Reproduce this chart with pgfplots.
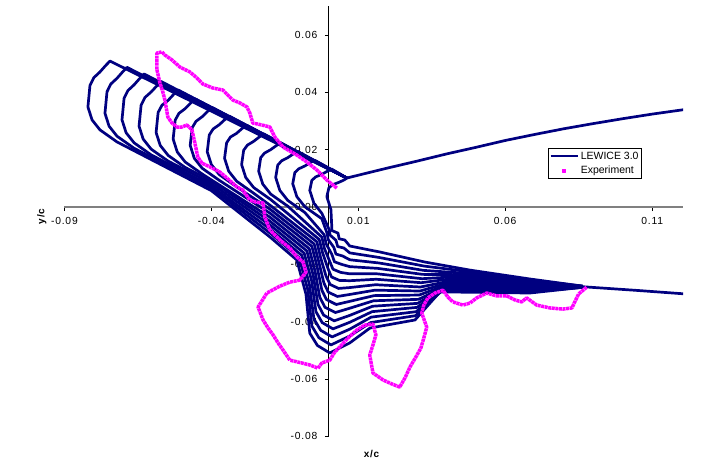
\documentclass[border=0pt]{standalone}
\usepackage{fontspec}
\setmainfont{Liberation Sans}
\newfontfamily\spaced[LetterSpace=8]{Liberation Sans}
\usepackage{pgfplots}
\pgfplotsset{compat=1.18}
\definecolor{lnavy}{RGB}{0,0,128}
\definecolor{emag}{RGB}{255,0,255}
\begin{document}
\begin{tikzpicture}
\useasboundingbox (0,0) rectangle (706bp,466bp);
\begin{axis}[
  at={(64.4bp,29.6bp)}, anchor=south west,
  scale only axis, width=618.6bp, height=430.1bp,
  xmin=-0.09, xmax=0.1205, ymin=-0.08, ymax=0.07,
  axis lines=middle,
  axis line style={-},
  x axis line style={-, draw=gray, line width=1.5bp},
  y axis line style={-, draw=black, line width=0.9bp},
  xtick={-0.09,-0.04,0.01,0.06,0.11},
  xticklabels={-0.09,-0.04,0.01,0.06,0.11},
  ytick={-0.08,-0.06,-0.04,-0.02,0,0.02,0.04,0.06},
  yticklabels={-0.08,-0.06,-0.04,-0.02,0.00,0.02,0.04,0.06},
  tick align=outside, major tick length=4bp,
  tick style={black, line width=0.8bp},
  hide obscured x ticks=false, hide obscured y ticks=false,
  ticklabel style={font=\spaced\fontsize{10.3bp}{12bp}\selectfont},
  xticklabel style={anchor=north, yshift=-3bp},
  yticklabel style={anchor=east, xshift=-4bp},
  legend style={at={(0.7818,0.6706)}, anchor=north west, draw=black, line width=0.7bp,
    fill=white, inner xsep=1bp, inner ysep=1.5bp, row sep=1.5bp,
    font=\fontsize{10.5bp}{12bp}\selectfont, cells={anchor=west}},
  legend image code/.code={\draw[#1, line width=2.4bp] (0bp,0bp) -- (27bp,0bp);},
  every axis plot/.append style={line join=round},
  lew/.style={lnavy, line width=2.7bp, forget plot},
]
% LEWICE 3.0 : upper surface
\addplot[lnavy, line width=2.7bp] coordinates {(0.1211,0.0340) (0.1100,0.0324) (0.1000,0.0308) (0.0900,0.0291) (0.0800,0.0273) (0.0700,0.0253) (0.0600,0.0232) (0.0500,0.0208) (0.0400,0.0185) (0.0300,0.0160) (0.0200,0.0136) (0.0120,0.0116) (0.0061,0.0101)};
% lower surface
\addplot[lew] coordinates {(0.0864,-0.0278) (0.1050,-0.0291) (0.1211,-0.0303)};
% ice shapes
\addplot[lew] coordinates {(0.0061,0.0101) (0.0053,0.0095) (0.0034,0.0086) (0.0013,0.0078) (0.0000,0.0067) (-0.0007,0.0036) (0.0007,-0.0009) (0.0010,-0.0073) (0.0010,-0.0082) (0.0031,-0.0091) (0.0035,-0.0111) (0.0054,-0.0115) (0.0071,-0.0136) (0.0174,-0.0157) (0.0327,-0.0192) (0.0480,-0.0220) (0.0684,-0.0251) (0.0864,-0.0276)};
\addplot[lew] coordinates {(0.0061,0.0101) (0.0010,0.0132) (-0.0005,0.0125) (-0.0024,0.0114) (-0.0045,0.0105) (-0.0058,0.0093) (-0.0065,0.0058) (-0.0051,0.0013) (-0.0024,-0.0022) (0.0002,-0.0081) (0.0004,-0.0098) (0.0024,-0.0116) (0.0030,-0.0138) (0.0051,-0.0143) (0.0071,-0.0160) (0.0171,-0.0176) (0.0324,-0.0206) (0.0472,-0.0225) (0.0684,-0.0255) (0.0864,-0.0276)};
\addplot[lew] coordinates {(0.0061,0.0101) (-0.0048,0.0163) (-0.0063,0.0155) (-0.0082,0.0143) (-0.0103,0.0133) (-0.0116,0.0120) (-0.0123,0.0081) (-0.0109,0.0036) (-0.0082,0.0001) (-0.0024,-0.0041) (-0.0007,-0.0089) (-0.0002,-0.0114) (0.0017,-0.0141) (0.0024,-0.0164) (0.0047,-0.0171) (0.0071,-0.0184) (0.0169,-0.0195) (0.0322,-0.0221) (0.0465,-0.0231) (0.0684,-0.0258) (0.0864,-0.0277)};
\addplot[lew] coordinates {(0.0061,0.0101) (-0.0106,0.0194) (-0.0121,0.0185) (-0.0140,0.0172) (-0.0161,0.0161) (-0.0174,0.0146) (-0.0181,0.0103) (-0.0167,0.0058) (-0.0140,0.0023) (-0.0082,-0.0019) (-0.0016,-0.0097) (-0.0009,-0.0129) (0.0010,-0.0165) (0.0019,-0.0191) (0.0043,-0.0200) (0.0071,-0.0208) (0.0166,-0.0214) (0.0319,-0.0235) (0.0458,-0.0236) (0.0684,-0.0262) (0.0864,-0.0277)};
\addplot[lew] coordinates {(0.0061,0.0101) (-0.0164,0.0224) (-0.0179,0.0214) (-0.0198,0.0200) (-0.0219,0.0188) (-0.0232,0.0172) (-0.0239,0.0125) (-0.0225,0.0080) (-0.0198,0.0045) (-0.0140,0.0003) (-0.0024,-0.0105) (-0.0015,-0.0145) (0.0003,-0.0190) (0.0014,-0.0217) (0.0040,-0.0228) (0.0071,-0.0233) (0.0164,-0.0233) (0.0317,-0.0250) (0.0450,-0.0242) (0.0684,-0.0265) (0.0864,-0.0277)};
\addplot[lew] coordinates {(0.0061,0.0101) (-0.0222,0.0255) (-0.0237,0.0244) (-0.0256,0.0229) (-0.0277,0.0216) (-0.0290,0.0198) (-0.0297,0.0148) (-0.0283,0.0103) (-0.0256,0.0068) (-0.0198,0.0026) (-0.0033,-0.0113) (-0.0021,-0.0161) (-0.0003,-0.0215) (0.0009,-0.0244) (0.0036,-0.0256) (0.0071,-0.0257) (0.0161,-0.0252) (0.0314,-0.0264) (0.0443,-0.0247) (0.0684,-0.0269) (0.0864,-0.0277)};
\addplot[lew] coordinates {(0.0061,0.0101) (-0.0280,0.0285) (-0.0295,0.0274) (-0.0314,0.0257) (-0.0335,0.0244) (-0.0348,0.0224) (-0.0355,0.0170) (-0.0341,0.0125) (-0.0314,0.0090) (-0.0256,0.0048) (-0.0200,0.0006) (-0.0041,-0.0121) (-0.0028,-0.0177) (-0.0010,-0.0240) (0.0004,-0.0270) (0.0033,-0.0284) (0.0071,-0.0281) (0.0159,-0.0271) (0.0312,-0.0279) (0.0436,-0.0253) (0.0684,-0.0272) (0.0864,-0.0278)};
\addplot[lew] coordinates {(0.0061,0.0101) (-0.0339,0.0317) (-0.0354,0.0305) (-0.0373,0.0287) (-0.0394,0.0272) (-0.0407,0.0251) (-0.0414,0.0193) (-0.0400,0.0148) (-0.0373,0.0113) (-0.0315,0.0071) (-0.0200,-0.0008) (-0.0050,-0.0129) (-0.0034,-0.0193) (-0.0017,-0.0265) (-0.0002,-0.0297) (0.0029,-0.0312) (0.0071,-0.0305) (0.0157,-0.0290) (0.0310,-0.0293) (0.0429,-0.0258) (0.0684,-0.0276) (0.0864,-0.0278)};
\addplot[lew] coordinates {(0.0061,0.0101) (-0.0397,0.0347) (-0.0412,0.0334) (-0.0431,0.0315) (-0.0452,0.0299) (-0.0465,0.0277) (-0.0472,0.0215) (-0.0458,0.0170) (-0.0431,0.0135) (-0.0373,0.0093) (-0.0200,-0.0022) (-0.0058,-0.0137) (-0.0040,-0.0209) (-0.0024,-0.0290) (-0.0008,-0.0323) (0.0025,-0.0340) (0.0071,-0.0329) (0.0154,-0.0309) (0.0307,-0.0307) (0.0421,-0.0264) (0.0684,-0.0279) (0.0864,-0.0278)};
\addplot[lew] coordinates {(0.0061,0.0101) (-0.0455,0.0377) (-0.0470,0.0363) (-0.0489,0.0343) (-0.0510,0.0327) (-0.0523,0.0303) (-0.0530,0.0237) (-0.0516,0.0192) (-0.0489,0.0157) (-0.0431,0.0115) (-0.0200,-0.0036) (-0.0067,-0.0145) (-0.0047,-0.0224) (-0.0031,-0.0315) (-0.0013,-0.0350) (0.0022,-0.0368) (0.0071,-0.0353) (0.0152,-0.0327) (0.0305,-0.0322) (0.0414,-0.0269) (0.0684,-0.0282) (0.0864,-0.0279)};
\addplot[lew] coordinates {(0.0061,0.0101) (-0.0513,0.0408) (-0.0528,0.0393) (-0.0547,0.0372) (-0.0568,0.0355) (-0.0581,0.0330) (-0.0588,0.0260) (-0.0574,0.0215) (-0.0547,0.0180) (-0.0489,0.0138) (-0.0400,0.0091) (-0.0200,-0.0050) (-0.0075,-0.0153) (-0.0053,-0.0240) (-0.0037,-0.0340) (-0.0018,-0.0377) (0.0018,-0.0397) (0.0071,-0.0378) (0.0149,-0.0346) (0.0302,-0.0336) (0.0407,-0.0275) (0.0684,-0.0286) (0.0864,-0.0279)};
\addplot[lew] coordinates {(0.0061,0.0101) (-0.0571,0.0438) (-0.0586,0.0422) (-0.0605,0.0401) (-0.0626,0.0382) (-0.0639,0.0355) (-0.0646,0.0282) (-0.0632,0.0237) (-0.0605,0.0202) (-0.0547,0.0160) (-0.0400,0.0082) (-0.0200,-0.0063) (-0.0084,-0.0161) (-0.0059,-0.0256) (-0.0044,-0.0365) (-0.0023,-0.0403) (0.0014,-0.0425) (0.0071,-0.0402) (0.0147,-0.0365) (0.0300,-0.0350) (0.0399,-0.0280) (0.0684,-0.0289) (0.0864,-0.0279)};
\addplot[lew] coordinates {(0.0061,0.0101) (-0.0629,0.0464) (-0.0644,0.0448) (-0.0663,0.0426) (-0.0684,0.0406) (-0.0697,0.0379) (-0.0704,0.0304) (-0.0690,0.0259) (-0.0663,0.0224) (-0.0605,0.0182) (-0.0400,0.0073) (-0.0200,-0.0077) (-0.0092,-0.0169) (-0.0066,-0.0272) (-0.0051,-0.0390) (-0.0028,-0.0430) (0.0011,-0.0453) (0.0071,-0.0426) (0.0144,-0.0384) (0.0297,-0.0365) (0.0392,-0.0286) (0.0684,-0.0293) (0.0864,-0.0280)};
\addplot[lew] coordinates {(0.0061,0.0101) (-0.0687,0.0487) (-0.0702,0.0471) (-0.0721,0.0449) (-0.0742,0.0429) (-0.0755,0.0402) (-0.0762,0.0327) (-0.0748,0.0282) (-0.0721,0.0247) (-0.0663,0.0205) (-0.0400,0.0066) (-0.0200,-0.0091) (-0.0101,-0.0177) (-0.0072,-0.0288) (-0.0058,-0.0415) (-0.0034,-0.0456) (0.0007,-0.0481) (0.0071,-0.0450) (0.0142,-0.0403) (0.0295,-0.0379) (0.0385,-0.0291) (0.0684,-0.0296) (0.0864,-0.0280)};
\addplot[lew] coordinates {(0.0061,0.0101) (-0.0745,0.0509) (-0.0760,0.0493) (-0.0779,0.0471) (-0.0800,0.0451) (-0.0813,0.0424) (-0.0820,0.0349) (-0.0806,0.0304) (-0.0779,0.0269) (-0.0721,0.0227) (-0.0400,0.0057) (-0.0200,-0.0105) (-0.0109,-0.0185) (-0.0078,-0.0304) (-0.0065,-0.0440) (-0.0039,-0.0483) (0.0003,-0.0509) (0.0071,-0.0474) (0.0140,-0.0422) (0.0293,-0.0394) (0.0378,-0.0296) (0.0684,-0.0300) (0.0864,-0.0280)};
% Experiment
\addlegendimage{legend image code/.code={\fill[emag] (12bp,-1.6bp) rectangle (15.2bp,1.6bp);}}
\addplot[emag, line width=3.5bp, dash pattern=on 3bp off 0.6bp, forget plot] coordinates {
(0.0027,0.0066) (-0.0007,0.0094) (-0.0041,0.0129) (-0.0075,0.0157) (-0.0109,0.0181) (-0.0156,0.0209)
(-0.0184,0.0244) (-0.0201,0.0279) (-0.0228,0.0286) (-0.0259,0.0293) (-0.0269,0.0328) (-0.0279,0.0349)
(-0.0303,0.0363) (-0.0327,0.0373) (-0.0361,0.0408) (-0.0395,0.0415) (-0.0429,0.0429) (-0.0449,0.0450)
(-0.0473,0.0471) (-0.0507,0.0488) (-0.0534,0.0513) (-0.0558,0.0530) (-0.0568,0.0541) (-0.0585,0.0537)
(-0.0585,0.0506) (-0.0585,0.0478) (-0.0575,0.0433) (-0.0565,0.0401) (-0.0558,0.0373) (-0.0548,0.0314)
(-0.0534,0.0293) (-0.0517,0.0279) (-0.0500,0.0279) (-0.0483,0.0286) (-0.0466,0.0269) (-0.0456,0.0223)
(-0.0446,0.0174) (-0.0432,0.0153) (-0.0405,0.0140) (-0.0371,0.0122) (-0.0347,0.0101) (-0.0313,0.0070)
(-0.0293,0.0059) (-0.0269,0.0024) (-0.0248,0.0017) (-0.0224,0.0014) (-0.0221,-0.0010) (-0.0218,-0.0035)
(-0.0201,-0.0080) (-0.0167,-0.0115) (-0.0133,-0.0143) (-0.0109,-0.0174) (-0.0088,-0.0192) (-0.0078,-0.0227)
(-0.0099,-0.0255) (-0.0133,-0.0262) (-0.0167,-0.0276) (-0.0211,-0.0300) (-0.0241,-0.0349) (-0.0224,-0.0394)
(-0.0207,-0.0422) (-0.0190,-0.0446) (-0.0173,-0.0474) (-0.0156,-0.0499) (-0.0133,-0.0534) (-0.0092,-0.0544)
(-0.0065,-0.0551) (-0.0037,-0.0562) (-0.0024,-0.0544) (0.0003,-0.0534) (0.0020,-0.0506) (0.0037,-0.0488)
(0.0065,-0.0457) (0.0095,-0.0429) (0.0122,-0.0412) (0.0150,-0.0408) (0.0160,-0.0446) (0.0150,-0.0481)
(0.0139,-0.0516) (0.0150,-0.0579) (0.0184,-0.0603) (0.0214,-0.0617) (0.0241,-0.0628) (0.0259,-0.0596)
(0.0276,-0.0558) (0.0296,-0.0523) (0.0313,-0.0492) (0.0323,-0.0457) (0.0333,-0.0419) (0.0316,-0.0370)
(0.0323,-0.0342) (0.0337,-0.0317) (0.0361,-0.0300) (0.0388,-0.0290) (0.0405,-0.0314) (0.0422,-0.0331)
(0.0456,-0.0342) (0.0480,-0.0335) (0.0503,-0.0317) (0.0537,-0.0300) (0.0571,-0.0310) (0.0605,-0.0310)
(0.0633,-0.0324) (0.0656,-0.0331) (0.0673,-0.0317) (0.0707,-0.0342) (0.0752,-0.0352) (0.0796,-0.0356)
(0.0827,-0.0352) (0.0840,-0.0324) (0.0850,-0.0303) (0.0878,-0.0279)};
\legend{LEWICE 3.0, Experiment}
\end{axis}
\node[font=\bfseries\spaced\fontsize{10bp}{12bp}\selectfont] at (371.5bp,12.5bp) {x/c};
\node[rotate=90, font=\bfseries\spaced\fontsize{10bp}{12bp}\selectfont] at (41.7bp,249.5bp) {y/c};
\end{tikzpicture}
\end{document}
